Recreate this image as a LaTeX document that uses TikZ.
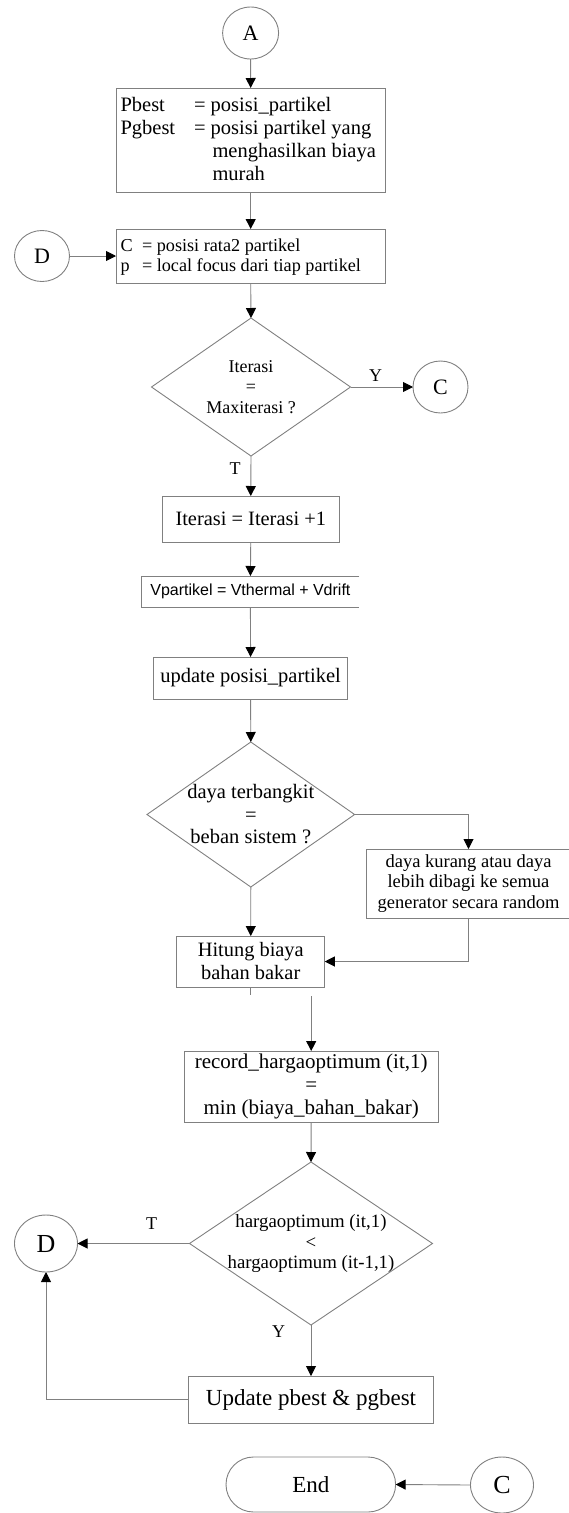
\documentclass[tikz,border=0pt]{standalone}
\usepackage{fontspec}
\setmainfont{Liberation Serif}
\newfontfamily\arialfont{Liberation Sans}
\usetikzlibrary{shapes.geometric,arrows.meta,calc}
\definecolor{lc}{RGB}{128,128,128}
\newcommand\fsB{\fontsize{20.5}{23}\selectfont}
\newcommand\fsD{\fontsize{18.2}{20}\selectfont}
\newcommand\fsE{\fontsize{18}{20.5}\selectfont}
\newcommand\fsF{\fontsize{20.4}{23}\selectfont}
\newcommand\fsG{\fontsize{20.5}{22.5}\selectfont}
\newcommand\fsH{\fontsize{18.5}{20.5}\selectfont}
\newcommand\fsI{\fontsize{21}{23}\selectfont}
\newcommand\fsJ{\fontsize{18.8}{20.5}\selectfont}
\newcommand\fsK{\fontsize{23}{26}\selectfont}
\newcommand\fsC{\fontsize{22}{24}\selectfont}
\newcommand\fsL{\fontsize{26}{28}\selectfont}
\newcommand\fsM{\fontsize{18}{20}\selectfont}
\tikzset{
  ln/.style={draw=lc, line width=0.9pt},
  arr/.style={draw=lc, line width=0.9pt, -{Triangle[length=10pt,width=10pt,color=black]}},
  box/.style={draw=lc, line width=0.9pt, rectangle, inner sep=0pt, outer sep=0pt, text=black, align=center},
  dia/.style={draw=lc, line width=0.9pt, diamond, inner sep=0pt, outer sep=0pt},
  conn/.style={draw=lc, line width=0.9pt, ellipse, inner sep=0pt, outer sep=0pt, text=black},
  txt/.style={text=black, inner sep=0pt, outer sep=0pt},
  lbl/.style={text=black, inner sep=0pt, font=\fsM},
}
\begin{document}
\begin{tikzpicture}[x=1pt,y=-1pt]
\useasboundingbox (0,0) rectangle (569,1513);
% connectors (circles)
\node[conn, minimum width=56pt, minimum height=52pt, font=\fsC] (A) at (250.6,33) {A};
\node[conn, minimum width=55pt, minimum height=51pt, font=\fsC] (D1) at (42,256) {D};
\node[conn, minimum width=55pt, minimum height=52pt, font=\fsC] (C1) at (440.5,387) {C};
\node[conn, minimum width=63pt, minimum height=57pt, font=\fsL] (D2) at (46,1243.5) {D};
\node[conn, minimum width=63pt, minimum height=56pt, font=\fsL] (C2) at (502,1485) {C};
% box 1
\node[box, minimum width=269.4pt, minimum height=104pt] (b1) at (250.7,140) {};
\node[txt, anchor=base west, font=\fsB] (b1la) at (120.5,111) {Pbest};
\node[txt, anchor=base west, font=\fsB] (b1lb) at (194,111) {= posisi\_partikel};
\node[txt, anchor=base west, font=\fsB] (b1lc) at (120.5,134) {Pgbest};
\node[txt, anchor=base west, font=\fsB] (b1ld) at (194,134) {= posisi partikel yang};
\node[txt, anchor=base west, font=\fsB] (b1le) at (212.5,157) {menghasilkan biaya};
\node[txt, anchor=base west, font=\fsB] (b1lf) at (212.5,180) {murah};
% box 2
\node[box, minimum width=269.4pt, minimum height=54pt] (b2) at (250.7,256) {};
\node[txt, anchor=base west, font=\fsD] (b2la) at (120.5,251.7) {C};
\node[txt, anchor=base west, font=\fsD] (b2lb) at (142,251.7) {= posisi rata2 partikel};
\node[txt, anchor=base west, font=\fsD] (b2lc) at (120.5,271.7) {p};
\node[txt, anchor=base west, font=\fsD] (b2ld) at (142,271.7) {= local focus dari tiap partikel};
% decision 1
\node[dia, minimum width=199pt, minimum height=138pt] (d1) at (251,387) {};
\node[txt, align=center, font=\fsE] (d1t) at (251,387) {Iterasi\\=\\Maxiterasi ?};
% box 3
\node[box, minimum width=177pt, minimum height=46pt, font=\fsF] (b3) at (250.75,519) {Iterasi = Iterasi +1};
% box 4 (right side open)
\node[txt, minimum width=218pt, minimum height=31pt, font={\arialfont\fontsize{16}{18}\selectfont}] (b4) at (250.4,591.5) {Vpartikel = Vthermal + Vdrift};
\draw[ln] (b4.north east) -- (b4.north west) -- (b4.south west) -- (b4.south east);
% box 5
\node[box, minimum width=194pt, minimum height=42pt, font=\fsB] (b5) at (250.6,678) {update posisi\_partikel};
% decision 2
\node[dia, minimum width=207.6pt, minimum height=145pt] (d2) at (250.8,814.5) {};
\node[txt, align=center, font=\fsG] (d2t) at (250.8,814.5) {daya terbangkit\\=\\beban sistem ?};
% box 6
\node[box, minimum width=204pt, minimum height=69pt, font=\fsH] (b6) at (468.5,883.5) {daya kurang atau daya\\lebih dibagi ke semua\\generator secara random};
% box 7
\node[box, minimum width=148pt, minimum height=51pt, font=\fsF] (b7) at (250.75,961.5) {Hitung biaya\\bahan bakar};
% box 8
\node[box, minimum width=254.4pt, minimum height=71pt, font=\fsI] (b8) at (311.2,1086.5) {record\_hargaoptimum (it,1)\\=\\min (biaya\_bahan\_bakar)};
% decision 3
\node[dia, minimum width=243pt, minimum height=163pt] (d3) at (311,1243.5) {};
\node[txt, align=center, font=\fsJ] (d3t) at (311,1243.5) {hargaoptimum (it,1)\\<\\hargaoptimum (it-1,1)};
% box 9
\node[box, minimum width=244.6pt, minimum height=47pt, font=\fsK] (b9) at (311,1399.5) {Update pbest \& pgbest};
% end
\node[box, rounded corners=27.5pt, minimum width=169.6pt, minimum height=55pt, font=\fsK] (E) at (310.8,1484.5) {End};
% labels
\node[lbl] (yl1) at (375.6,376) {Y};
\node[lbl] (tl1) at (235,469) {T};
\node[lbl] (tl2) at (151.7,1224) {T};
\node[lbl] (yl2) at (278.7,1331.7) {Y};
% coordinates
\coordinate (s7) at (250.75,995);
\coordinate (s8) at (311.2,996);
% edges
\draw[arr] (A.south) -- (b1.north);
\draw[arr] (b1.south) -- (b2.north);
\draw[arr] (D1.east) -- (b2.west);
\draw[arr] (b2.south) -- (d1.north);
\draw[arr] (d1.east) -- (C1.west);
\draw[arr] (d1.south) -- (b3.north);
\draw[arr] (b3.south) -- (b4.north);
\draw[arr] (b4.south) -- (b5.north);
\draw[arr] (b5.south) -- (d2.north);
\draw[arr] (d2.east) -| (b6.north);
\draw[arr] (d2.south) -- (b7.north);
\draw[arr] (b6.south) |- (b7.east);
\draw[ln] (b7.south) -- (s7);
\draw[arr] (s8) -- (b8.north);
\draw[arr] (b8.south) -- (d3.north);
\draw[arr] (d3.west) -- (D2.east);
\draw[arr] (d3.south) -- (b9.north);
\draw[arr] (b9.west) -| (D2.south);
\draw[arr] (C2.west) -- (E.east);
\end{tikzpicture}
\end{document}
